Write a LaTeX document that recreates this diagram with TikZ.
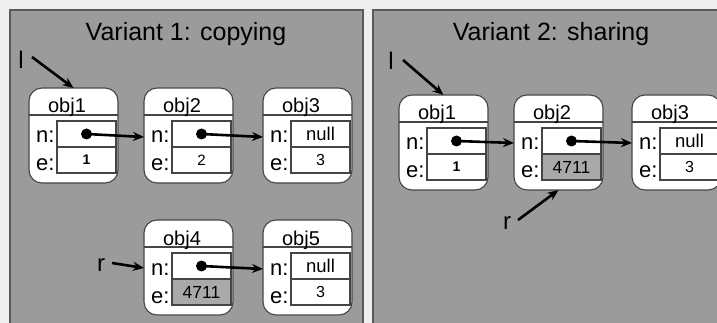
\documentclass[tikz,border=0pt]{standalone}
\usepackage{fontspec}
\setmainfont{Liberation Sans}
\usetikzlibrary{arrows.meta}

\definecolor{pagebg}{HTML}{EFEFEF}
\definecolor{panelbg}{HTML}{9B9B9B}
\definecolor{panelrule}{HTML}{5A5A5A}
\definecolor{objrule}{HTML}{454545}
\definecolor{cellshade}{HTML}{A9A9A9}

\newcommand\fs[1]{\fontsize{#1}{#1}\selectfont}

\tikzset{
  panel/.style={draw=panelrule, line width=2.2pt, fill=panelbg},
  paneltitle/.style={font=\fs{25}, anchor=base, inner sep=0pt},
  objbox/.style={draw=objrule, line width=1.1pt, fill=white, rounded corners=13pt,
    minimum width=89pt, minimum height=95pt, inner sep=0pt, outer sep=0pt, anchor=north west},
  objtitle/.style={font=\fs{20}, anchor=base, inner sep=0pt},
  cell/.style={draw=objrule, line width=1.1pt, fill=white, minimum width=59pt,
    minimum height=26pt, inner sep=0pt, outer sep=0pt, anchor=north west},
  shaded/.style={fill=cellshade},
  plain/.style={},
  fieldlabel/.style={font=\fs{22}, anchor=base west, inner sep=0pt},
  varlabel/.style={font=\fs{24}, inner sep=0pt},
  ptr/.style={line width=2.6pt, -{Stealth[length=11pt,width=9pt]}},
  dot/.style={fill=black}
}

% object record: name, x, y, title, n-field, e-field, e-cell style
\newcommand\objrec[7]{%
  \node[objbox] (#1) at (#2,#3) {};
  \draw[objrule, line width=1.1pt] ([yshift=-27pt]#1.north west) -- ([yshift=-27pt]#1.north east);
  \node[objtitle] at ([xshift=38pt,yshift=-25pt]#1.north west) {#4};
  \node[cell] (#1n) at ([xshift=28pt,yshift=-33pt]#1.north west) {#5};
  \node[cell,#7] (#1e) at ([xshift=28pt,yshift=-59pt]#1.north west) {#6};
  \node[fieldlabel] at ([xshift=7pt,yshift=-55pt]#1.north west) {n:};
  \node[fieldlabel] at ([xshift=7pt,yshift=-83pt]#1.north west) {e:};
}

\begin{document}
\begin{tikzpicture}[x=1pt,y=-1pt]
  \useasboundingbox (0,0) rectangle (717,323);
  \clip (0,0) rectangle (717,323);
  \fill[pagebg] (0,0) rectangle (717,323);

  % the two panels
  \draw[panel] (10,10) rectangle (363,345);
  \draw[panel] (373,10) rectangle (745,345);
  \node[paneltitle] (t1) at (186,41) {Variant 1: copying};
  \node[paneltitle] (t2) at (551,41) {Variant 2: sharing};

  % ---- variant 1: copied list ----
  \objrec{L1}{29}{88}{obj1}{}{\fs{14}\bfseries 1}{plain}
  \objrec{L2}{144}{88}{obj2}{}{\fs{15}2}{plain}
  \objrec{L3}{263}{88}{obj3}{\fs{18.5}null}{\fs{16}3}{plain}
  \objrec{L4}{144}{220}{obj4}{}{\fs{17.5}4711}{shaded}
  \objrec{L5}{263}{220}{obj5}{\fs{18.5}null}{\fs{16}3}{plain}

  \path (L2.west |- L2n.center) ++(0,3) coordinate (L2in);
  \path (L3.west |- L3n.center) ++(0,3) coordinate (L3in);
  \path (L5.west |- L5n.center) ++(0,3) coordinate (L5in);
  \path (L4.west |- L4n.center) ++(0,2) coordinate (L4in);

  \fill[dot] (L1n.center) circle (5.5pt);
  \fill[dot] (L2n.center) circle (5.5pt);
  \fill[dot] (L4n.center) circle (5.5pt);
  \draw[ptr] (L1n.center) -- (L2in);
  \draw[ptr] (L2n.center) -- (L3in);
  \draw[ptr] (L4n.center) -- (L5in);

  \node[varlabel] (lL) at (21,60) {l};
  \coordinate (lLtail) at (32,57);
  \draw[ptr] (lLtail) -- (L1.north);

  \node[varlabel] (rL) at (101,265) {r};
  \coordinate (rLtail) at (112,263);
  \draw[ptr] (rLtail) -- (L4in);

  % ---- variant 2: shared list ----
  \objrec{R1}{399}{95}{obj1}{}{\fs{14}\bfseries 1}{plain}
  \objrec{R2}{514}{95}{obj2}{}{\fs{17.5}4711}{shaded}
  \objrec{R3}{632}{95}{obj3}{\fs{18.5}null}{\fs{16}3}{plain}

  \path (R2.west |- R2n.center) ++(0,2) coordinate (R2in);
  \path (R3.west |- R3n.center) ++(0,2) coordinate (R3in);

  \fill[dot] (R1n.center) circle (5.5pt);
  \fill[dot] (R2n.center) circle (5.5pt);
  \draw[ptr] (R1n.center) -- (R2in);
  \draw[ptr] (R2n.center) -- (R3in);

  \node[varlabel] (lR) at (391,61) {l};
  \coordinate (lRtail) at (403,60);
  \draw[ptr] (lRtail) -- (R1.north);

  \node[varlabel] (rR) at (507,223) {r};
  \coordinate (rRtail) at (518,220);
  \draw[ptr] (rRtail) -- (R2.south);
\end{tikzpicture}
\end{document}
